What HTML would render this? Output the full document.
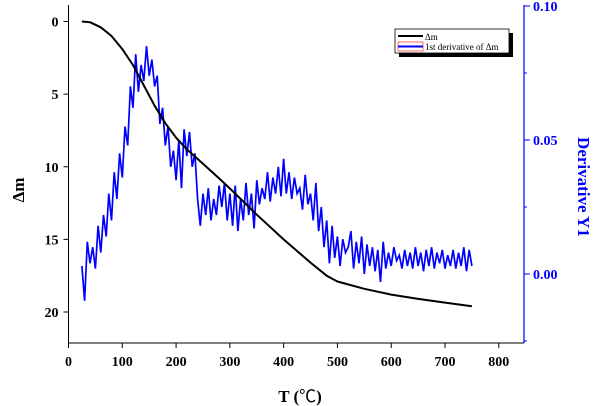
<!DOCTYPE html>
<html><head><meta charset="utf-8"><style>
body{margin:0;background:#fff;}
svg{display:block;font-family:"Liberation Serif",serif;}
</style></head><body>
<svg id="chart" width="600" height="406" viewBox="0 0 600 406" xmlns="http://www.w3.org/2000/svg">
<g id="axes"></g>
<g id="series"></g>
<g>
<rect x="399" y="33" width="114" height="24" fill="#000"/>
<rect x="395" y="29" width="114" height="24" fill="#fff" stroke="#000" stroke-width="0.8"/>
<line x1="398" y1="36" x2="423" y2="36" stroke="#000" stroke-width="2"/>
<text x="425" y="40" font-size="9">Δm</text>
<rect x="398" y="42" width="25" height="9" fill="none" stroke="#f44" stroke-width="0.8"/>
<line x1="398" y1="46.5" x2="423" y2="46.5" stroke="#00f" stroke-width="2"/>
<text x="425" y="50" font-size="9">1st derivative of Δm</text>
</g>
<text x="300" y="402" text-anchor="middle" font-size="17" font-weight="bold">T (<tspan font-family="'Noto Sans CJK SC',sans-serif" font-weight="normal">℃</tspan>)</text>
<text transform="translate(24,190) rotate(-90)" text-anchor="middle" font-size="17" font-weight="bold">Δm</text>
<text transform="translate(578,187) rotate(90)" text-anchor="middle" font-size="17" font-weight="bold" fill="#00f">Derivative Y1</text>
</svg>
<script>
const massT=[25,40,60,80,100,120,140,160,180,200,220,250,280,300,350,400,450,480,500,550,600,650,700,750];
const massVals=[0,0.05,0.4,1.0,1.9,3.0,4.4,5.8,7.0,8.0,8.8,9.8,10.8,11.5,13.3,15.0,16.6,17.5,17.9,18.4,18.8,19.1,19.35,19.6];
const derivStart=25, derivStep=5;
const derivVals=[0.003,-0.010,0.012,0.004,0.010,0.002,0.018,0.008,0.022,0.014,0.030,0.020,0.038,0.028,0.045,0.036,0.055,0.048,0.070,0.062,0.082,0.068,0.078,0.072,0.085,0.074,0.080,0.070,0.074,0.056,0.062,0.048,0.055,0.040,0.046,0.035,0.050,0.032,0.054,0.044,0.053,0.040,0.045,0.028,0.018,0.030,0.022,0.032,0.020,0.028,0.022,0.033,0.025,0.034,0.020,0.030,0.018,0.033,0.016,0.028,0.020,0.034,0.022,0.030,0.017,0.035,0.026,0.032,0.028,0.038,0.027,0.036,0.030,0.040,0.029,0.043,0.030,0.038,0.028,0.036,0.030,0.032,0.024,0.037,0.026,0.030,0.020,0.034,0.016,0.025,0.010,0.020,0.004,0.018,0.006,0.014,0.003,0.013,0.008,0.010,0.016,0.002,0.012,0.004,0.014,0.000,0.011,0.003,0.010,0.001,0.009,-0.003,0.012,0.002,0.008,0.003,0.010,0.005,0.007,0.002,0.009,0.003,0.008,0.002,0.010,0.003,0.008,0.001,0.009,0.003,0.010,0.002,0.008,0.004,0.009,0.002,0.007,0.003,0.009,0.002,0.008,0.003,0.010,0.001,0.009,0.003];
const xTicks=[0,100,200,300,400,500,600,700,800];
const yTicks=[0,5,10,15,20];
const y2Ticks=[0.00,0.05,0.10];
const y2Minor=[-0.025,0.025,0.075];

const L=68.5,R=524,T=5,B=343;
const X=v=>L+(v-0)*(498.8-68.5)/800;
const Y=v=>21.5+v*(312-21.5)/20;
const Y2=v=>274+(0-v)*(274-6)/0.1;
const NS="http://www.w3.org/2000/svg";
function mk(tag,attrs,parent,txt){const e=document.createElementNS(NS,tag);for(const k in attrs)e.setAttribute(k,attrs[k]);if(txt!==undefined)e.textContent=txt;parent.appendChild(e);return e;}
const ax=document.getElementById('axes');
let e;
e=mk('line',{x1:L,y1:T,x2:L,y2:B,stroke:'#000','stroke-width':1},ax);


e=mk('line',{x1:L,y1:B,x2:R,y2:B,stroke:'#000','stroke-width':1},ax);


e=mk('line',{x1:R,y1:T,x2:R,y2:B,stroke:'#00f','stroke-width':1.2},ax);


xTicks.forEach(v=>{
 mk('line',{x1:X(v),y1:B,x2:X(v),y2:B+5,stroke:'#000'},ax);
 e=mk('text',{x:X(v),y:B+23,'text-anchor':'middle','font-size':14,'font-weight':'bold'},ax,String(v));
 
 
});
yTicks.forEach(v=>{
 mk('line',{x1:L-5,y1:Y(v),x2:L,y2:Y(v),stroke:'#000'},ax);
 e=mk('text',{x:L-10,y:Y(v)+5,'text-anchor':'end','font-size':14,'font-weight':'bold'},ax,String(v));
 
 
});
y2Ticks.forEach(v=>{
 mk('line',{x1:R,y1:Y2(v),x2:R+6,y2:Y2(v),stroke:'#00f'},ax);
 e=mk('text',{x:R+9,y:Y2(v)+5,'font-size':14,'font-weight':'bold',fill:'#00f'},ax,v.toFixed(2));
 
 
});
y2Minor.forEach(v=>{mk('line',{x1:R,y1:Y2(v),x2:R+3,y2:Y2(v),stroke:'#00f'},ax);});
const sg=document.getElementById('series');
let d=derivVals.map((v,i)=>(i?'L':'M')+X(derivStart+i*derivStep).toFixed(1)+','+Y2(v).toFixed(1)).join('');
e=mk('path',{d:d,fill:'none',stroke:'#00f','stroke-width':1.7},sg);


d=massT.map((t,i)=>(i?'L':'M')+X(t).toFixed(1)+','+Y(massVals[i]).toFixed(1)).join('');
e=mk('path',{d:d,fill:'none',stroke:'#000','stroke-width':2,'stroke-linejoin':'round'},sg);


</script>
</body></html>
